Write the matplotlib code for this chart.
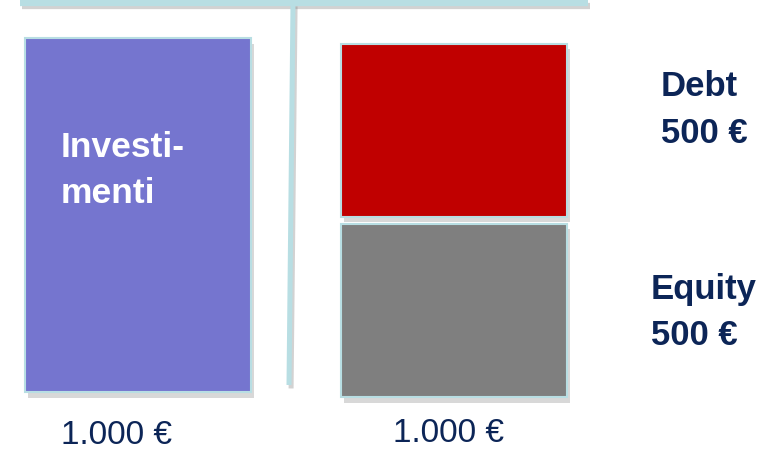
import matplotlib
matplotlib.use("Agg")
import matplotlib.pyplot as plt
import matplotlib.patheffects as pe

# values (euro)
investimenti = 1000
debt = 500
equity = 500
totals = ["1.000 €", "1.000 €"]
left_label = ["Investi-", "menti"]
right_labels = [("Debt", "500 €"), ("Equity", "500 €")]

W, H = 777, 451
fig = plt.figure(figsize=(W / 100, H / 100), dpi=100)

# bars in euro scale
ax = fig.add_axes([0, 0, 1, 1])
ax.axis("off")
px_per_eur = 0.354
ax.set_xlim(0, W)
ax.set_ylim((392 - H) / px_per_eur, 392 / px_per_eur)

line_c = "#b8dee3"
bar_w = 226
x_left, x_right = 138, 454
gap = 20
offset = -14

box = dict(edgecolor=line_c, linewidth=1.5,
           path_effects=[pe.SimplePatchShadow(offset=(2, -4), shadow_rgbFace="gray", alpha=0.3), pe.Normal()])
ax.bar(x_left, investimenti, width=bar_w, bottom=0, color="#7575cf", **box)
ax.bar(x_right, equity - gap / 2 - 1, width=bar_w, bottom=offset, color="#7f7f7f", **box)
ax.bar(x_right, debt - gap / 2 - 1, width=bar_w, bottom=offset + equity + gap / 2 - 1, color="#c00000", **box)

# overlay in pixel coordinates (T-account lines and text)
deco = fig.add_axes([0, 0, 1, 1])
deco.patch.set_alpha(0)
deco.set_xlim(0, W)
deco.set_ylim(H, 0)
deco.axis("off")

shadow = [pe.SimpleLineShadow(offset=(1.5, -2.5), shadow_color="gray", alpha=0.35), pe.Normal()]
deco.plot([20, 588], [2.5, 2.5], color=line_c, lw=4.5, solid_capstyle="butt", path_effects=shadow)
deco.plot([293, 289], [3, 385], color=line_c, lw=3.6, solid_capstyle="butt", path_effects=shadow)

navy = "#0c2557"
font = "Liberation Sans"
deco.text(61, 157, left_label[0], color="white", fontsize=25.5, fontweight="bold", family=font, va="baseline")
deco.text(61, 203, left_label[1], color="white", fontsize=25.5, fontweight="bold", family=font, va="baseline")

deco.text(661, 96, right_labels[0][0], color=navy, fontsize=25, fontweight="bold", family=font, va="baseline")
deco.text(661, 143, right_labels[0][1], color=navy, fontsize=25, fontweight="bold", family=font, va="baseline")
deco.text(651, 299, right_labels[1][0], color=navy, fontsize=25, fontweight="bold", family=font, va="baseline")
deco.text(651, 345, right_labels[1][1], color=navy, fontsize=25, fontweight="bold", family=font, va="baseline")

deco.text(61, 444, totals[0], color=navy, fontsize=24, family=font, va="baseline")
deco.text(393, 442, totals[1], color=navy, fontsize=24, family=font, va="baseline")

fig.savefig("out.png", dpi=100)
